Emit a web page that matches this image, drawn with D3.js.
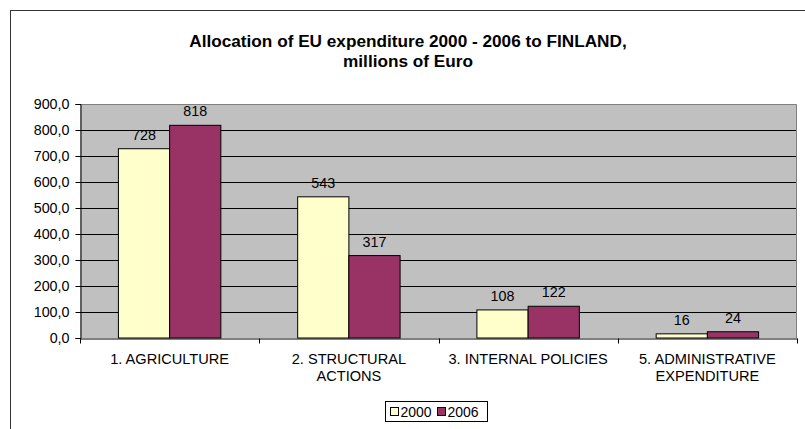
<!DOCTYPE html>
<html>
<head>
<meta charset="utf-8">
<script src="https://cdn.jsdelivr.net/npm/d3@7"></script>
<style>
  html, body { margin: 0; padding: 0; background: #fff; }
  svg { display: block; font-family: Arial, "Liberation Sans", sans-serif; }
</style>
</head>
<body>
<svg id="chart" width="805" height="429"></svg>
<script>
const categories = ["1. AGRICULTURE", "2. STRUCTURAL\nACTIONS", "3. INTERNAL POLICIES", "5. ADMINISTRATIVE\nEXPENDITURE"];
const seriesNames = ["2000", "2006"];
const values2000 = [728, 543, 108, 16];
const values2006 = [818, 317, 122, 24];
const yTicks = [0, 100, 200, 300, 400, 500, 600, 700, 800, 900];
const titleLines = ["Allocation of EU expenditure 2000 - 2006 to FINLAND,", "millions of Euro"];
const colors = { "2000": "#FFFFCC", "2006": "#993366" };

const seriesValues = { "2000": values2000, "2006": values2006 };
const svg = d3.select("#chart");
const fmtInt = d3.format("d");

// chart area border (left & top visible)
svg.append("rect")
  .attr("x", 10.5).attr("y", 10.5)
  .attr("width", 820).attr("height", 440)
  .attr("fill", "#fff").attr("stroke", "#333").attr("stroke-width", 1);

const plot = { left: 80, right: 797, top: 104, bottom: 338 };

const x = d3.scaleBand().domain(categories).range([plot.left, plot.right]).paddingInner(0).paddingOuter(0);
const xs = d3.scaleBand().domain(seriesNames).range([0, x.bandwidth()]).paddingInner(0).paddingOuter(0.75);
const y = d3.scaleLinear().domain([0, 900]).range([plot.bottom, plot.top]);

// plot background
svg.append("rect")
  .attr("x", plot.left).attr("y", plot.top)
  .attr("width", plot.right - plot.left).attr("height", plot.bottom - plot.top)
  .attr("fill", "#C0C0C0");

// gridlines
svg.append("g").selectAll("line").data(yTicks.filter(d => +d > 0 && +d < 900)).join("line")
  .attr("x1", plot.left).attr("x2", plot.right)
  .attr("y1", d => Math.round(y(+d)) + 0.5).attr("y2", d => Math.round(y(+d)) + 0.5)
  .attr("stroke", "#000").attr("stroke-width", 1);

// plot border top/right
svg.append("path")
  .attr("d", `M${plot.left},${plot.top + 0.5}H${plot.right - 0.5}V${plot.bottom}`)
  .attr("fill", "none").attr("stroke", "#808080").attr("stroke-width", 1);

// bars
const groups = svg.append("g").selectAll("g").data(categories).join("g")
  .attr("transform", d => `translate(${x(d)},0)`);

const barData = (d, i) => seriesNames.map(s => ({ s, v: +seriesValues[s][i] }));

groups.selectAll("rect").data(barData).join("rect")
  .attr("x", d => xs(d.s))
  .attr("y", d => y(d.v))
  .attr("width", xs.bandwidth())
  .attr("height", d => y(0) - y(d.v))
  .attr("fill", d => colors[d.s])
  .attr("stroke", "#000").attr("stroke-width", 1);

groups.selectAll("text.lbl").data(barData).join("text")
  .attr("class", "lbl")
  .attr("x", d => xs(d.s) + xs.bandwidth() / 2)
  .attr("y", d => y(d.v) - 9)
  .attr("text-anchor", "middle")
  .attr("font-size", 14.3)
  .attr("fill", "#000")
  .text(d => fmtInt(d.v));

// y axis
const yAxis = d3.axisLeft(y).tickValues(yTicks.map(Number)).tickSize(5).tickPadding(6)
  .tickFormat(d => d3.format(".1f")(+d).replace(".", ","));
const yg = svg.append("g").attr("transform", `translate(${plot.left + 0.5},0)`).call(yAxis);
yg.select(".domain").attr("stroke", "#000");
yg.selectAll(".tick line").attr("stroke", "#000");
yg.selectAll(".tick text").attr("font-size", 14.3).attr("fill", "#000").attr("font-family", "Arial, 'Liberation Sans', sans-serif");

// x axis
const xAxis = d3.axisBottom(x).tickSize(0).tickFormat("");
const xg = svg.append("g").attr("transform", `translate(0,${plot.bottom + 0.5})`).call(xAxis);
xg.select(".domain").attr("stroke", "#000");
// boundary ticks
xg.append("g").selectAll("line").data(d3.range(categories.length + 1)).join("line")
  .attr("x1", i => Math.round(plot.left + i * x.step()) + 0.5)
  .attr("x2", i => Math.round(plot.left + i * x.step()) + 0.5)
  .attr("y1", 0).attr("y2", 5)
  .attr("stroke", "#000");

// category labels
const catLabels = svg.append("g").selectAll("text").data(categories).join("text")
  .attr("x", d => x(d) + x.bandwidth() / 2)
  .attr("y", 363.5)
  .attr("text-anchor", "middle")
  .attr("font-size", 14.6)
  .attr("fill", "#000");
catLabels.each(function(d) {
  const t = d3.select(this);
  String(d).split("\n").forEach((line, i) => {
    t.append("tspan").attr("x", x(d) + x.bandwidth() / 2).attr("dy", i === 0 ? 0 : 17.5).text(line);
  });
});

// title
svg.append("g").selectAll("text").data(titleLines).join("text")
  .attr("x", 408)
  .attr("y", (d, i) => 46.5 + i * 20)
  .attr("text-anchor", "middle")
  .attr("font-size", 17.2)
  .attr("font-weight", "bold")
  .attr("fill", "#000")
  .text(d => String(d));

// legend
const legend = svg.append("g").attr("transform", "translate(385.5,401.5)");
legend.append("rect").attr("width", 102).attr("height", 20).attr("fill", "#fff").attr("stroke", "#000");
const li = legend.selectAll("g").data(seriesNames).join("g")
  .attr("transform", (d, i) => `translate(${5 + i * 47},0)`);
li.append("rect").attr("x", 0).attr("y", 6).attr("width", 8).attr("height", 8)
  .attr("fill", d => colors[d]).attr("stroke", "#000");
li.append("text").attr("x", 10).attr("y", 15).attr("font-size", 14).attr("fill", "#000").text(d => String(d));
</script>
</body>
</html>
